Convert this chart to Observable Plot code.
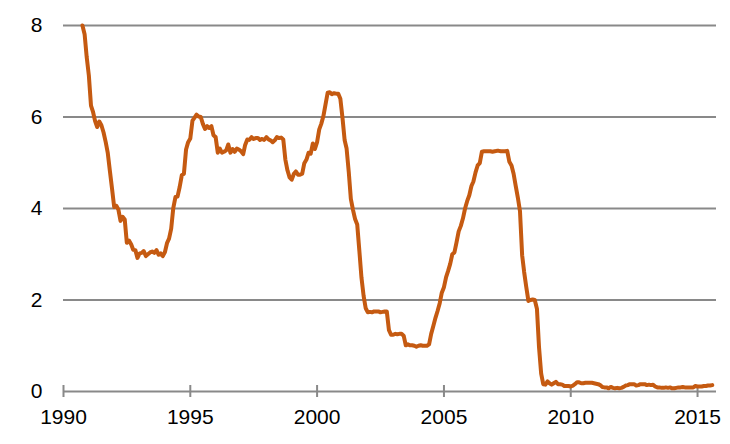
<!DOCTYPE html>
<html><head><meta charset="utf-8">
<script src="https://cdn.jsdelivr.net/npm/d3@7"></script>
<script src="https://cdn.jsdelivr.net/npm/@observablehq/plot@0.6"></script>
<style>body{margin:0;background:#fff}</style>
</head><body><div id="chart"></div>
<script>
// Monthly effective rate, starting October 1990
const startYear = 1990, startMonth = 9; // 0-based month index (October)
const rates = [
  8.00, 7.81, 7.31,                                                   // 1990 Oct-Dec
  6.91, 6.25, 6.12, 5.91, 5.78, 5.90, 5.82, 5.66, 5.45, 5.21, 4.81, 4.43, // 1991
  4.03, 4.06, 3.98, 3.73, 3.82, 3.76, 3.25, 3.30, 3.22, 3.10, 3.09, 2.92, // 1992
  3.02, 3.03, 3.07, 2.96, 3.00, 3.04, 3.06, 3.03, 3.09, 2.99, 3.02, 2.96, // 1993
  3.05, 3.25, 3.34, 3.56, 4.01, 4.25, 4.26, 4.47, 4.73, 4.76, 5.29, 5.45, // 1994
  5.53, 5.92, 5.98, 6.05, 6.01, 6.00, 5.85, 5.74, 5.80, 5.76, 5.80, 5.60, // 1995
  5.56, 5.22, 5.31, 5.22, 5.24, 5.27, 5.40, 5.22, 5.30, 5.24, 5.31, 5.29, // 1996
  5.25, 5.19, 5.39, 5.51, 5.50, 5.56, 5.52, 5.54, 5.54, 5.50, 5.52, 5.50, // 1997
  5.56, 5.51, 5.49, 5.45, 5.49, 5.56, 5.54, 5.55, 5.51, 5.07, 4.83, 4.68, // 1998
  4.63, 4.76, 4.81, 4.74, 4.74, 4.76, 4.99, 5.07, 5.22, 5.20, 5.42, 5.30, // 1999
  5.45, 5.73, 5.85, 6.02, 6.27, 6.53, 6.54, 6.50, 6.52, 6.51, 6.51, 6.40, // 2000
  5.98, 5.49, 5.31, 4.80, 4.21, 3.97, 3.77, 3.65, 3.07, 2.49, 2.09, 1.82, // 2001
  1.73, 1.74, 1.73, 1.75, 1.75, 1.75, 1.73, 1.74, 1.75, 1.75, 1.34, 1.24, // 2002
  1.24, 1.26, 1.25, 1.26, 1.26, 1.22, 1.01, 1.03, 1.01, 1.01, 1.00, 0.98, // 2003
  1.00, 1.01, 1.00, 1.00, 1.00, 1.03, 1.26, 1.43, 1.61, 1.76, 1.93, 2.16, // 2004
  2.28, 2.50, 2.63, 2.79, 3.00, 3.04, 3.26, 3.50, 3.62, 3.78, 4.00, 4.16, // 2005
  4.29, 4.49, 4.59, 4.79, 4.94, 4.99, 5.24, 5.25, 5.25, 5.25, 5.25, 5.24, // 2006
  5.25, 5.26, 5.26, 5.25, 5.25, 5.25, 5.26, 5.02, 4.94, 4.76, 4.49, 4.24, // 2007
  3.94, 2.98, 2.61, 2.28, 1.98, 2.00, 2.01, 2.00, 1.81, 0.97, 0.39, 0.16, // 2008
  0.15, 0.22, 0.18, 0.15, 0.18, 0.21, 0.16, 0.16, 0.15, 0.12, 0.12, 0.12, // 2009
  0.11, 0.13, 0.16, 0.20, 0.20, 0.18, 0.18, 0.19, 0.19, 0.19, 0.19, 0.18, // 2010
  0.17, 0.16, 0.14, 0.10, 0.09, 0.09, 0.07, 0.10, 0.08, 0.07, 0.08, 0.07, // 2011
  0.08, 0.10, 0.13, 0.14, 0.16, 0.16, 0.16, 0.13, 0.14, 0.16, 0.16, 0.16, // 2012
  0.14, 0.15, 0.14, 0.15, 0.11, 0.09, 0.09, 0.08, 0.08, 0.09, 0.08, 0.09, // 2013
  0.07, 0.07, 0.08, 0.09, 0.09, 0.10, 0.09, 0.09, 0.09, 0.09, 0.09, 0.12, // 2014
  0.11, 0.11, 0.11, 0.12, 0.12, 0.13, 0.13, 0.14                          // 2015 Jan-Aug
];
const xTickYears = [1990, 1995, 2000, 2005, 2010, 2015];
const yTickValues = [0, 2, 4, 6, 8];
const gridValues = [2, 4, 6, 8];
const xDomainYears = [1990, 2015.75];

const data = rates.map((v, i) => ({date: new Date(startYear, startMonth + i, 1), rate: v}));
const xTicks = xTickYears.map(y => new Date(y, 0, 1));
const toDate = y => new Date(Math.floor(y), Math.round((y % 1) * 12), 1);

const gray = "#898989";
const chart = Plot.plot({
  width: 730, height: 444,
  marginLeft: 63, marginRight: 14, marginTop: 25, marginBottom: 53,
  style: {fontFamily: '"Liberation Sans", Arial, sans-serif', fontSize: "21px", color: "#000", background: "#fff"},
  x: {type: "time", domain: xDomainYears.map(toDate), label: null},
  y: {domain: [0, 8], label: null},
  marks: [
    Plot.gridY(gridValues, {stroke: gray, strokeOpacity: 1, strokeWidth: 2}),
    Plot.ruleY([0], {stroke: gray, strokeWidth: 2}),
    Plot.axisX(xTicks, {tickSize: 12, dy: -6, fill: "none", stroke: gray, strokeWidth: 2}),
    Plot.axisX(xTicks, {tickSize: 0, tickPadding: 18, tickFormat: d3.timeFormat("%Y"), fontSize: 21, fill: "#000"}),
    Plot.axisY(yTickValues, {tickSize: 0, tickPadding: 21, fontSize: 21, fill: "#000"}),
    Plot.lineY(data, {x: "date", y: "rate", stroke: "#C55A11", strokeWidth: 4, strokeLinejoin: "round", strokeLinecap: "round"})
  ]
});
document.getElementById("chart").appendChild(chart);
</script>
</body></html>
